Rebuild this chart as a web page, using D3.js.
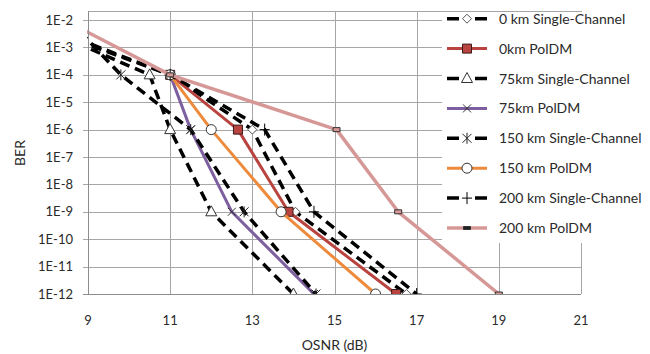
<!DOCTYPE html>
<html>
<head>
<meta charset="utf-8">
<script src="https://cdn.jsdelivr.net/npm/d3@7"></script>
<style>
  body { margin: 0; background: #fff; }
  svg { display: block; font-family: Lato, "Liberation Sans", sans-serif; }
</style>
</head>
<body>
<div class="canva"></div>
<script>
// x ticks and y ticks
var osnrTicks = [9, 11, 13, 15, 17, 19, 21];
var berTicks = [1e-2, 1e-3, 1e-4, 1e-5, 1e-6, 1e-7, 1e-8, 1e-9, 1e-10, 1e-11, 1e-12];
var berLabels = ["1E-2", "1E-3", "1E-4", "1E-5", "1E-6", "1E-7", "1E-8", "1E-9", "1E-10", "1E-11", "1E-12"];

// series (first points of some series lie left of the axis and get clipped)
var osnr0kmSC = [8, 11, 13, 14.05, 16.75];
var ber0kmSC = [5.5e-3, 1e-4, 1e-6, 1e-9, 1e-12];
var osnr0kmPol = [11, 12.65, 13.88, 16.5];
var ber0kmPol = [1e-4, 1e-6, 1e-9, 1e-12];
var osnr75kmSC = [8, 10.5, 11, 12, 14];
var ber75kmSC = [4.3e-3, 1e-4, 1e-6, 1e-9, 1e-12];
var osnr75kmPol = [11, 11.5, 12.5, 14.5];
var ber75kmPol = [1e-4, 1e-6, 1e-9, 1e-12];
var osnr150kmSC = [8, 9.8, 11.5, 12.8, 14.55];
var ber150kmSC = [7e-2, 1e-4, 1e-6, 1e-9, 1e-12];
var osnr150kmPol = [11, 12, 13.7, 16];
var ber150kmPol = [1e-4, 1e-6, 1e-9, 1e-12];
var osnr200kmSC = [8, 11, 13.3, 14.5, 17];
var ber200kmSC = [4.5e-3, 1e-4, 1e-6, 1e-9, 1e-12];
var osnr200kmPol = [8, 11, 15.05, 16.55, 19];
var ber200kmPol = [2.1e-2, 1e-4, 1e-6, 1e-9, 1e-12];

var seriesNames = ["0 km Single-Channel", "0km PolDM", "75km Single-Channel", "75km PolDM",
                   "150 km Single-Channel", "150 km PolDM", "200 km Single-Channel", "200 km PolDM"];

const width = 650, height = 354;
const margin = {top: 11, right: 69, bottom: 60, left: 88};
const graphWidth = width - margin.left - margin.right;

const svg = d3.select(".canva").append("svg")
    .attr("width", width)
    .attr("height", height);

const x = d3.scaleLinear().domain([9, 21]).range([0, graphWidth]);
// axis top sits a third of a decade above 1E-2
const y = d3.scaleLog().domain([1e-12, Math.pow(10, -1.67)]).range([283, 0]);

const g = svg.append("g").attr("transform", `translate(${margin.left}, ${margin.top})`);

// grid
g.selectAll(".hgrid").data(berTicks).enter().append("line")
    .attr("x1", -5).attr("x2", graphWidth)
    .attr("y1", d => Math.round(y(d)) + 0.5).attr("y2", d => Math.round(y(d)) + 0.5)
    .attr("stroke", "#a6a6a6").attr("stroke-width", 1);
g.selectAll(".vgrid").data(osnrTicks).enter().append("line")
    .attr("x1", d => Math.round(x(d)) + 0.5).attr("x2", d => Math.round(x(d)) + 0.5)
    .attr("y1", 0).attr("y2", 283)
    .attr("stroke", "#a6a6a6").attr("stroke-width", 1);
g.append("line").attr("x1", 0).attr("x2", graphWidth).attr("y1", 0.5).attr("y2", 0.5)
    .attr("stroke", "#a6a6a6");

// tick labels
g.selectAll(".ylab").data(berTicks).enter().append("text")
    .attr("x", -15).attr("y", d => y(d) + 4.5)
    .attr("text-anchor", "end")
    .attr("font-size", 13).attr("fill", "#2a2a2a")
    .text((d, i) => berLabels[i]);
g.selectAll(".xlab").data(osnrTicks).enter().append("text")
    .attr("x", d => x(d)).attr("y", 314)
    .attr("text-anchor", "middle")
    .attr("font-size", 13).attr("fill", "#2a2a2a")
    .text(d => d);

svg.append("text").attr("x", margin.left + graphWidth / 2).attr("y", 350)
    .attr("text-anchor", "middle").attr("font-size", 14).attr("fill", "#2a2a2a")
    .text("OSNR (dB)");
svg.append("text").attr("transform", "translate(25, 153) rotate(-90)")
    .attr("text-anchor", "middle").attr("font-size", 14).attr("fill", "#2a2a2a")
    .text("BER");

// marker shapes
var shapes = {
  diamond: "M0,-4.5L4.5,0L0,4.5L-4.5,0Z",
  square: "M-4.5,-4.5H4.5V4.5H-4.5Z",
  triangle: "M0,-6L5.5,4L-5.5,4Z",
  times: "M-4,-4L4,4M-4,4L4,-4",
  asterisk: "M-4.5,-4.5L4.5,4.5M-4.5,4.5L4.5,-4.5M0,-5.5L0,5.5",
  circle: "M5,0A5,5 0 1,1 -5,0A5,5 0 1,1 5,0Z",
  plus: "M-5,0H5M0,-6V6",
  bar: "M-3.5,-2H3.5V2H-3.5Z"
};

var series = [
  {osnr: osnr0kmSC, ber: ber0kmSC, color: "#000", width: 3.5, dash: "10,6", shape: "diamond", fill: "#fff", mstroke: "#555"},
  {osnr: osnr0kmPol, ber: ber0kmPol, color: "#b8433f", width: 3, dash: null, shape: "square", fill: "#b8433f", mstroke: "#3a1a19"},
  {osnr: osnr75kmSC, ber: ber75kmSC, color: "#000", width: 3.5, dash: "10,6", shape: "triangle", fill: "#fff", mstroke: "#333"},
  {osnr: osnr75kmPol, ber: ber75kmPol, color: "#7d5fa0", width: 3, dash: null, shape: "times", fill: "none", mstroke: "#333"},
  {osnr: osnr150kmSC, ber: ber150kmSC, color: "#000", width: 3.5, dash: "10,6", shape: "asterisk", fill: "none", mstroke: "#222"},
  {osnr: osnr150kmPol, ber: ber150kmPol, color: "#ee8a3c", width: 3, dash: null, shape: "circle", fill: "#fff", mstroke: "#333"},
  {osnr: osnr200kmSC, ber: ber200kmSC, color: "#000", width: 3.5, dash: "10,6", shape: "plus", fill: "none", mstroke: "#000"},
  {osnr: osnr200kmPol, ber: ber200kmPol, color: "#d69896", width: 3.5, dash: null, shape: "bar", fill: "#d69896", mstroke: "#333"}
];

svg.append("clipPath").attr("id", "plotclip").append("rect")
    .attr("x", -1).attr("y", 0).attr("width", graphWidth + 2).attr("height", 284);

const plot = g.append("g").attr("clip-path", "url(#plotclip)");

var valueLine = d3.line()
    .x(d => x(d[0]))
    .y(d => y(d[1]));

series.forEach(function(s) {
  var pts = s.osnr.map((v, i) => [v, s.ber[i]]);
  plot.append("path")
      .datum(pts)
      .attr("fill", "none")
      .attr("stroke", s.color)
      .attr("stroke-width", s.width)
      .attr("stroke-dasharray", s.dash)
      .attr("stroke-linejoin", "round")
      .attr("d", valueLine);
  plot.selectAll(null).data(pts).enter().append("path")
      .attr("transform", d => `translate(${x(d[0])}, ${y(d[1])})`)
      .attr("d", shapes[s.shape])
      .attr("fill", s.fill)
      .attr("stroke", s.mstroke)
      .attr("stroke-width", 1);
});

// axis lines
g.append("line").attr("x1", 0.5).attr("x2", 0.5).attr("y1", 0).attr("y2", 283).attr("stroke", "#8c8c8c");
g.append("line").attr("x1", -5).attr("x2", graphWidth).attr("y1", 283.5).attr("y2", 283.5).attr("stroke", "#8c8c8c");

// legend
const legend = svg.append("g");
legend.append("rect").attr("x", 442).attr("y", 12).attr("width", 208).attr("height", 231).attr("fill", "#fff");
var legendY = d3.scaleLinear().domain([0, 7]).range([18.7, 228]);
series.forEach(function(s, i) {
  var ly = legendY(i);
  legend.append("line")
      .attr("x1", 447).attr("x2", 487).attr("y1", ly).attr("y2", ly)
      .attr("stroke", s.color).attr("stroke-width", s.width)
      .attr("stroke-dasharray", s.dash ? "12,16" : null);
  legend.append("path")
      .attr("transform", `translate(467, ${ly})`)
      .attr("d", s.shape === "bar" ? "M-3.5,-1.5H3.5V1.5H-3.5Z" : shapes[s.shape])
      .attr("fill", s.shape === "bar" ? "#222" : s.fill)
      .attr("stroke", s.mstroke)
      .attr("stroke-width", 1);
  legend.append("text")
      .attr("x", 499).attr("y", ly + 5)
      .attr("font-size", 14).attr("fill", "#2a2a2a")
      .text(seriesNames[i]);
});
</script>
</body>
</html>
